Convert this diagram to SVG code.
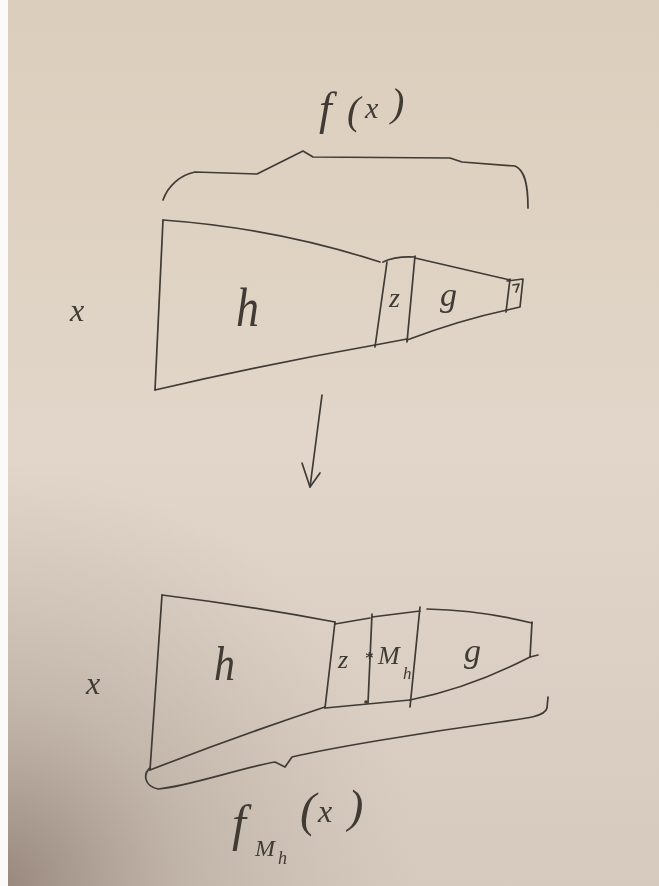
<svg xmlns="http://www.w3.org/2000/svg" width="659" height="886" viewBox="0 0 659 886">
  <defs>
    <linearGradient id="paper" x1="0" y1="0" x2="0" y2="1">
      <stop offset="0" stop-color="#dccebc"/>
      <stop offset="0.5" stop-color="#e1d6c9"/>
      <stop offset="1" stop-color="#d6cabe"/>
    </linearGradient>
    <radialGradient id="shade" cx="0" cy="886" r="420" gradientUnits="userSpaceOnUse">
      <stop offset="0" stop-color="#948379" stop-opacity="0.95"/>
      <stop offset="0.45" stop-color="#a89a8f" stop-opacity="0.45"/>
      <stop offset="1" stop-color="#b8aa9e" stop-opacity="0"/>
    </radialGradient>
    <filter id="soft" x="-5%" y="-5%" width="110%" height="110%">
      <feGaussianBlur stdDeviation="0.45"/>
    </filter>
    <style>
      .ink { fill: none; stroke: #3f3a36; stroke-width: 1.7; stroke-linecap: round; stroke-linejoin: round; }
      .hand { font-family: "Liberation Serif", "DejaVu Serif", serif; font-style: italic; fill: #3f3a36; }
    </style>
  </defs>

  <!-- paper -->
  <rect x="0" y="0" width="659" height="886" fill="url(#paper)"/>
  <rect x="0" y="0" width="659" height="886" fill="url(#shade)"/>
  <rect x="0" y="0" width="8" height="886" fill="#fbfaf8"/>

  <g filter="url(#soft)">
    <!-- upper sketch: f(x) -->
    <g id="top-brace">
      <path class="ink" d="M163,200 C168,186 180,175 195,172 L257,174 L303,151 L313,157 L450,158 L462,162 L515,166 C525,170 528,185 528,208"/>
      <text class="hand" x="319" y="124" font-size="46">f</text>
      <text class="hand" x="347" y="124" font-size="40">(</text>
      <text class="hand" x="365" y="118" font-size="30">x</text>
      <text class="hand" x="391" y="116" font-size="40">)</text>
    </g>
    <text id="top-x" class="hand" x="70" y="321" font-size="32">x</text>
    <g id="top-h">
      <path class="ink" d="M163,220 Q275,228 380,262"/>
      <path class="ink" d="M163,220 L155,390"/>
      <path class="ink" d="M155,390 Q262,365 375,345"/>
      <text class="hand" x="236" y="322" font-size="46" transform="translate(0,-60) scale(1,1.2)">h</text>
    </g>
    <g id="top-z">
      <path class="ink" d="M387,262 L375,347"/>
      <path class="ink" d="M383,262 Q395,256 415,257"/>
      <path class="ink" d="M415,256 L407,342"/>
      <path class="ink" d="M375,345 L407,339"/>
      <text class="hand" x="389" y="307" font-size="28">z</text>
    </g>
    <g id="top-g">
      <path class="ink" d="M415,258 L510,280"/>
      <path class="ink" d="M407,340 Q460,320 507,310"/>
      <text class="hand" x="440" y="306" font-size="34">g</text>
    </g>
    <g id="top-tail">
      <path class="ink" d="M507,281 L523,279 L520,307 L507,310"/>
      <path class="ink" d="M510,279 L506,312"/>
      <path class="ink" d="M513,285 L519,284 L516,292" stroke-width="1.3"/>
    </g>

    <!-- transform arrow -->
    <g id="connectors">
      <path class="ink" d="M322,395 L310,487"/>
      <path class="ink" d="M302,463 L310,487 L320,473"/>
    </g>

    <!-- lower sketch: f_{M_h}(x) -->
    <text id="bottom-x" class="hand" x="86" y="694" font-size="32">x</text>
    <g id="bottom-h">
      <path class="ink" d="M162,595 Q250,606 335,622"/>
      <path class="ink" d="M162,595 L150,770"/>
      <path class="ink" d="M150,770 Q240,735 325,707"/>
      <path class="ink" d="M335,622 L325,708"/>
      <text class="hand" x="214" y="678" font-size="42" transform="translate(0,-113) scale(1,1.17)">h</text>
    </g>
    <g id="bottom-z">
      <path class="ink" d="M335,624 L370,618"/>
      <path class="ink" d="M325,708 L410,700"/>
      <text class="hand" x="338" y="668" font-size="26">z</text>
    </g>
    <g id="bottom-mh">
      <path class="ink" d="M372,614 L368,703"/>
      <circle cx="370" cy="655" r="2" fill="#3f3a36"/>
      <circle cx="366" cy="702" r="1.8" fill="#3f3a36"/>
      <path class="ink" d="M372,617 L420,611"/>
      <path class="ink" d="M420,607 L410,707"/>
      <text class="hand" x="364" y="665" font-size="18">*</text>
      <text class="hand" x="378" y="664" font-size="26">M</text>
      <text class="hand" x="403" y="679" font-size="17">h</text>
    </g>
    <g id="bottom-g">
      <path class="ink" d="M427,609 Q480,610 532,623"/>
      <path class="ink" d="M532,622 L530,657 L538,655"/>
      <path class="ink" d="M410,700 Q470,688 530,657"/>
      <text class="hand" x="464" y="662" font-size="34">g</text>
    </g>
    <g id="bottom-brace">
      <path class="ink" d="M150,768 C143,774 144,786 158,789 C190,786 240,768 275,762 L285,767 L292,757 C330,748 420,733 500,722 C530,718 545,716 547,708 L548,697"/>
      <text class="hand" x="232" y="840" font-size="50">f</text>
      <text class="hand" x="255" y="856" font-size="24">M</text>
      <text class="hand" x="278" y="864" font-size="18">h</text>
      <text class="hand" x="300" y="826" font-size="48">(</text>
      <text class="hand" x="318" y="822" font-size="32">x</text>
      <text class="hand" x="348" y="822" font-size="46">)</text>
    </g>
  </g>
</svg>
